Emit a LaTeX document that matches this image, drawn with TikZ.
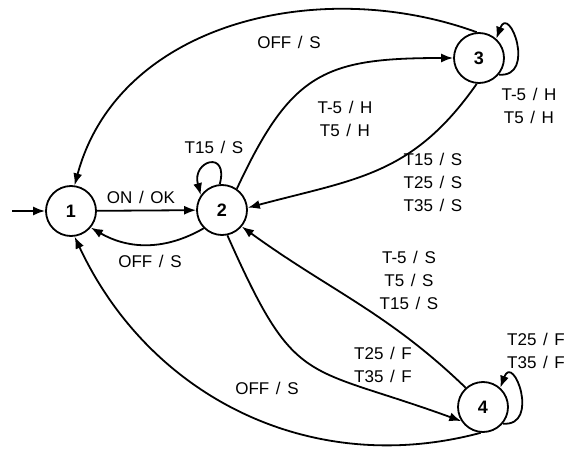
\documentclass[tikz,border=0pt]{standalone}
\usepackage{fontspec}
\setmainfont{Liberation Sans}[WordSpace = 1.4]
\usetikzlibrary{arrows.meta}

\begin{document}
\begin{tikzpicture}[> = {Latex[length = 12pt, width = 9pt]}, x = 1pt, y = 1pt, line width = 1.8pt,
	stnode/.style = {draw, circle, minimum size = 50pt, inner sep = 0pt,
		font = \fontsize{18}{18}\selectfont\bfseries},
	lbl/.style = {align = center, inner sep = 0pt,
		font = \fontsize{17}{23}\selectfont}]

	\useasboundingbox (0, 0) rectangle (568, 448);

	\node [stnode] (s1) at (71, 237) {1};
	\node [stnode] (s2) at (222, 238) {2};
	\node [stnode] (s3) at (479, 390) {3};
	\node [stnode] (s4) at (483, 41) {4};

	\coordinate (init) at (12, 237);

	\begin{scope}[->]

		\draw (init) -- (s1);
		\draw (s1) -- (s2);
		\draw (s2.-135) to [out = -150, in = -30] (s1.-40);
		\draw (s2.95) to [out = 75, in = 105, min distance = 36pt] (s2.145);

		\draw (s2.55) to [out = 65, in = 180, looseness = 1.3] (s3.180);
		\draw (s3.265) to [out = 235, in = 15, looseness = 1.1] (s2.5);
		\draw (s3.95) to [out = 160, in = 75] (s1.82);
		\draw (s3.-40) to [out = -5, in = 70, min distance = 38pt] (s3.48);

		\draw (s4.132) to [out = 136, in = -36] (s2.-40);
		\draw (s2.-78) to [out = -66, in = 160, looseness = 1.45] (s4.213);
		\draw (s4.265) to [out = 195, in = -65] (s1.-82);
		\draw (s4.-40) to [out = -5, in = 70, min distance = 38pt] (s4.48);

	\end{scope}

	\node [lbl] (l12) at (141, 251) {ON / OK};
	\node [lbl] (l21) at (150, 187) {OFF / S};
	\node [lbl] (l22) at (214, 301) {T15 / S};
	\node [lbl] (l23) at (345, 329) {T-5 / H\\T5 / H};
	\node [lbl] (l32) at (433, 266) {T15 / S\\T25 / S\\T35 / S};
	\node [lbl] (l31) at (289, 406) {OFF / S};
	\node [lbl] (l33) at (529, 342) {T-5 / H\\T5 / H};
	\node [lbl] (l42) at (409, 168) {T-5 / S\\T5 / S\\T15 / S};
	\node [lbl] (l24) at (383, 83) {T25 / F\\T35 / F};
	\node [lbl] (l41) at (267, 60) {OFF / S};
	\node [lbl] (l44) at (536, 97) {T25 / F\\T35 / F};

\end{tikzpicture}
\end{document}
